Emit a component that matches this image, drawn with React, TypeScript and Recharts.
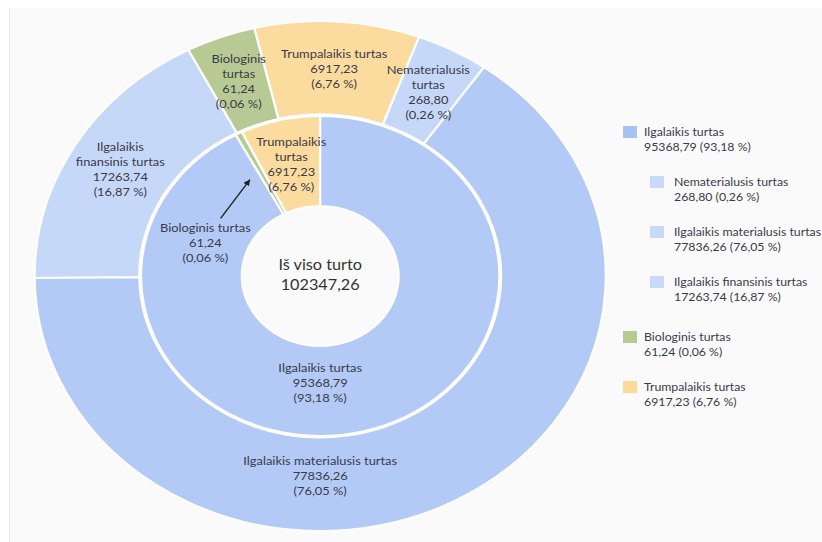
import React from 'react';
import { PieChart, Pie, Cell } from 'recharts';

const TOTAL = 102347.26;

// inner ring, counter-clockwise from 12 o'clock
const innerNames = ['Trumpalaikis\nturtas', 'Biologinis turtas', 'Ilgalaikis turtas'];
const innerValues = [6917.23, 61.24, 95368.79];
const innerColors = ['#fcdb9f', '#b8ca94', '#b2caf5'];

// outer ring, counter-clockwise
const outerNames = [
  'Nematerialusis\nturtas',
  'Trumpalaikis turtas',
  'Biologinis\nturtas',
  'Ilgalaikis\nfinansinis turtas',
  'Ilgalaikis materialusis turtas',
];
const outerValues = [268.8, 6917.23, 61.24, 17263.74, 77836.26];
const outerColors = ['#c6d8f7', '#fcdb9f', '#b8ca94', '#c6d8f7', '#b2caf5'];

const centerLines = ['Iš viso turto', '102347,26'];

const legendNames = [
  'Ilgalaikis turtas',
  'Nematerialusis turtas',
  'Ilgalaikis materialusis turtas',
  'Ilgalaikis finansinis turtas',
  'Biologinis turtas',
  'Trumpalaikis turtas',
];
const legendValues = [95368.79, 268.8, 77836.26, 17263.74, 61.24, 6917.23];
const legendLevels = [0, 1, 1, 1, 0, 0];
const legendColors = ['#a9c3f0', '#c8daf8', '#c8daf8', '#c8daf8', '#b8ca94', '#fcd89a'];

const TEXT = '#3a3a4a';
const FONT = 'Lato, "Noto Sans", sans-serif';
const RAD = Math.PI / 180;
const SX = 1.12; // the source picture is stretched horizontally

const fmt = (v: number) => v.toFixed(2).replace('.', ',');

const polar = (cx: number, cy: number, r: number, a: number) => ({
  x: cx + r * Math.cos(-a * RAD),
  y: cy + r * Math.sin(-a * RAD),
});

const makeLabel = (names: string[], values: number[], inner: boolean) => (props: any) => {
  const { cx, cy, midAngle, innerRadius, outerRadius, index } = props;
  const share = values[index] / TOTAL;
  const lines = [...names[index].split('\n'), fmt(values[index]), `(${fmt(share * 100)} %)`];
  const band = outerRadius - innerRadius;
  let angle = midAngle;
  let r = innerRadius + band * 0.5;
  if (share > 0.5) {
    angle = 270;
    r = innerRadius + band * 0.4;
  }
  let arrow: React.ReactNode = null;
  if (inner && share < 0.01) {
    // tiny slice: label sits in the neighbour with an arrow
    angle = midAngle + 45;
    r = innerRadius + band * 0.42;
    const a = polar(cx, cy, innerRadius + band * 0.4, midAngle + 30);
    const b = polar(cx, cy, innerRadius + band * 0.5, midAngle + 6);
    arrow = (
      <g>
        <defs>
          <marker id="arrowHead" markerWidth="8" markerHeight="8" refX="6" refY="3" orient="auto" markerUnits="userSpaceOnUse">
            <path d="M0,0 L6,3 L0,6 Z" fill="#222" />
          </marker>
        </defs>
        <line x1={a.x} y1={a.y} x2={b.x} y2={b.y} stroke="#222" strokeWidth={1.2} markerEnd="url(#arrowHead)" />
      </g>
    );
  }
  const p = polar(cx, cy, r, angle);
  const y0 = p.y - ((lines.length - 1) * 15) / 2;
  return (
    <g key={`lbl-${index}`}>
      {arrow}
      <text textAnchor="middle" fontFamily={FONT} fontSize={11.5} fill={TEXT} dominantBaseline="central">
        {lines.map((l, i) => (
          <tspan key={i} x={p.x} y={y0 + i * 15}>
            {l}
          </tspan>
        ))}
      </text>
      {inner && index === 0 && (
        <text textAnchor="middle" fontFamily={FONT} fontSize={14.5} fill="#333" dominantBaseline="central">
          <tspan x={cx} y={cy - 12}>{centerLines[0]}</tspan>
          <tspan x={cx} y={cy + 8}>{centerLines[1]}</tspan>
        </text>
      )}
    </g>
  );
};

const innerData = innerNames.map((name, i) => ({ name, value: innerValues[i] }));
const outerData = outerNames.map((name, i) => ({ name, value: outerValues[i] }));

const App: React.FC = () => {
  return (
    <div style={{ position: 'fixed', left: 0, top: 0, width: 822, height: 542, background: '#fff', overflow: 'hidden' }}>
      <div
        style={{
          position: 'absolute',
          left: 9,
          top: 8,
          right: 0,
          bottom: 0,
          background: '#fafafa',
          borderLeft: '1px solid #e6e9f0',
        }}
      />
      <div
        style={{
          position: 'absolute',
          left: 29,
          top: 0,
          width: 520,
          height: 542,
          transform: `scaleX(${SX})`,
          transformOrigin: '0 0',
        }}
      >
        <PieChart width={520} height={542} margin={{ top: 0, right: 0, bottom: 0, left: 0 }}>
          <Pie
            data={innerData}
            dataKey="value"
            nameKey="name"
            cx={260}
            cy={276}
            innerRadius={70}
            outerRadius={160}
            startAngle={90}
            endAngle={450}
            minAngle={2}
            stroke="#ffffff"
            strokeWidth={2}
            isAnimationActive={false}
            labelLine={false}
            label={makeLabel(innerNames, innerValues, true)}
          >
            {innerData.map((d, i) => (
              <Cell key={`in-${i}`} fill={innerColors[i]} />
            ))}
          </Pie>
          <Pie
            data={outerData}
            dataKey="value"
            nameKey="name"
            cx={260}
            cy={276}
            innerRadius={161.5}
            outerRadius={255}
            startAngle={55}
            endAngle={415}
            minAngle={14}
            stroke="#ffffff"
            strokeWidth={2}
            isAnimationActive={false}
            labelLine={false}
            label={makeLabel(outerNames, outerValues, false)}
          >
            {outerData.map((d, i) => (
              <Cell key={`out-${i}`} fill={outerColors[i]} />
            ))}
          </Pie>
        </PieChart>
      </div>

      <div
        style={{
          position: 'absolute',
          left: 623,
          top: 124,
          fontFamily: FONT,
          fontSize: 12.3,
          lineHeight: '15px',
          color: TEXT,
        }}
      >
        {legendNames.map((n, i) => {
          const lvl = legendLevels[i];
          const gap = i === 0 ? 0 : legendLevels[i - 1] > lvl ? 25 : 20;
          return (
            <div key={n} style={{ display: 'flex', marginLeft: lvl * 27, marginTop: gap, whiteSpace: 'nowrap' }}>
              <div
                style={{
                  width: 14,
                  height: 12,
                  background: legendColors[i],
                  marginTop: 2,
                  marginRight: lvl ? 10 : 7,
                  flexShrink: 0,
                }}
              />
              <div>
                <div>{n}</div>
                <div>
                  {fmt(legendValues[i])} ({fmt((legendValues[i] / TOTAL) * 100)} %)
                </div>
              </div>
            </div>
          );
        })}
      </div>
    </div>
  );
};

export default App;
